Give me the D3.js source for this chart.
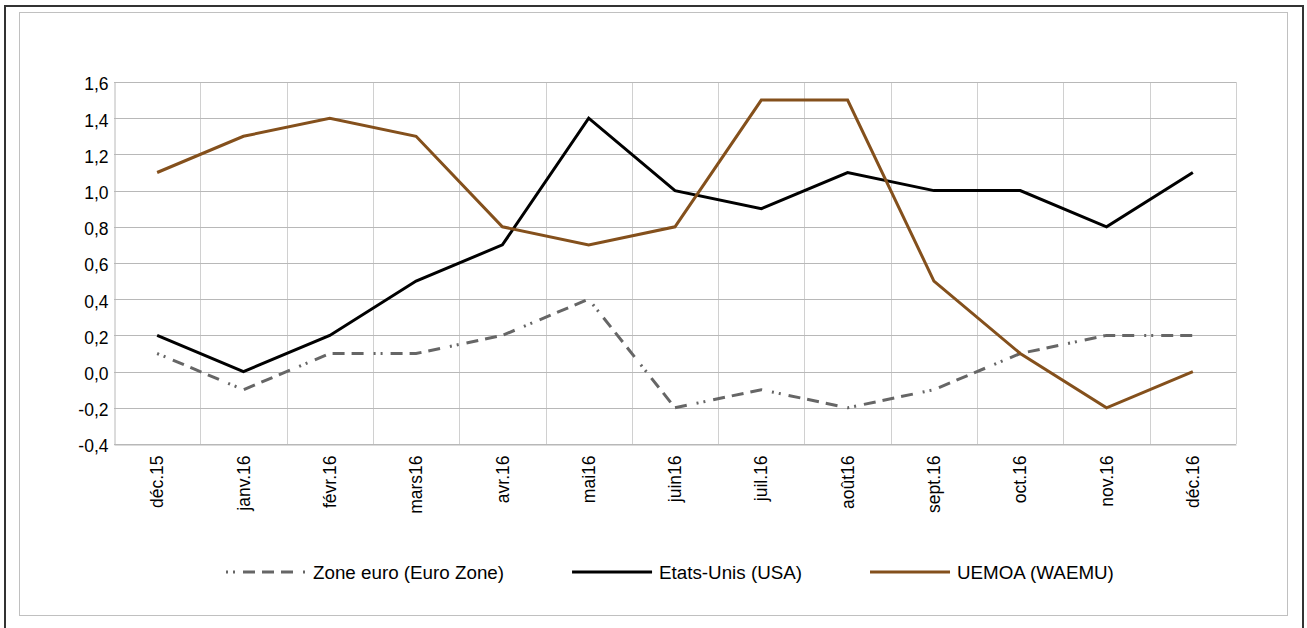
<!DOCTYPE html>
<html>
<head>
<meta charset="utf-8">
<script src="https://cdn.jsdelivr.net/npm/d3@7"></script>
<style>
  body { margin: 0; background: #fff; }
  svg { display: block; font-family: "Liberation Sans", Arial, sans-serif; }
</style>
</head>
<body>
<div id="chart"></div>
<script>
// data
const months = ["déc.15", "janv.16", "févr.16", "mars16", "avr.16", "mai16", "juin16",
                "juil.16", "août16", "sept.16", "oct.16", "nov.16", "déc.16"];
const zoneEuro = [0.1, -0.1, 0.1, 0.1, 0.2, 0.4, -0.2, -0.1, -0.2, -0.1, 0.1, 0.2, 0.2];
const etatsUnis = [0.2, 0.0, 0.2, 0.5, 0.7, 1.4, 1.0, 0.9, 1.1, 1.0, 1.0, 0.8, 1.1];
const uemoa = [1.1, 1.3, 1.4, 1.3, 0.8, 0.7, 0.8, 1.5, 1.5, 0.5, 0.1, -0.2, 0.0];
const seriesNames = ["Zone euro (Euro Zone)", "Etats-Unis (USA)", "UEMOA (WAEMU)"];
const yTicks = [-0.4, -0.2, 0, 0.2, 0.4, 0.6, 0.8, 1.0, 1.2, 1.4, 1.6];

const width = 1307;
const height = 628;
const margin = { top: 82, right: 71, bottom: 184, left: 114 };

const series = [
  { name: seriesNames[0], values: zoneEuro, color: "#666666", dash: "2,5,2,8,12,7,12,7,12,10" },
  { name: seriesNames[1], values: etatsUnis, color: "#000000", dash: null },
  { name: seriesNames[2], values: uemoa, color: "#84501c", dash: null }
];

const fr = d3.formatLocale({ decimal: ",", thousands: " ", grouping: [3], currency: ["", "€"], minus: "-" });
const fmt = fr.format(".1f");

const svg = d3.select("#chart")
  .append("svg")
  .attr("width", width)
  .attr("height", height);

// frames
svg.append("rect")
  .attr("x", 5).attr("y", 6)
  .attr("width", 1298).attr("height", 640)
  .attr("fill", "none")
  .attr("stroke", "#333")
  .attr("stroke-width", 2);

svg.append("rect")
  .attr("x", 19.5).attr("y", 12.5)
  .attr("width", 1268).attr("height", 603)
  .attr("fill", "none")
  .attr("stroke", "#c0c0c0")
  .attr("stroke-width", 1);

const x = d3.scaleBand()
  .domain(months)
  .range([margin.left, width - margin.right])
  .padding(0);

const y = d3.scaleLinear()
  .domain([-0.4, 1.6])
  .range([height - margin.bottom, margin.top]);

const cx = d => x(d) + x.bandwidth() / 2;

// vertical grid at category boundaries
svg.append("g")
  .selectAll("line")
  .data(months)
  .join("line")
    .attr("x1", d => Math.round(x(d) + x.bandwidth()) + 0.5)
    .attr("x2", d => Math.round(x(d) + x.bandwidth()) + 0.5)
    .attr("y1", y(1.6))
    .attr("y2", y(-0.4))
    .attr("stroke", "#d0d0d0");

// horizontal grid
svg.append("g")
  .selectAll("line")
  .data(yTicks)
  .join("line")
    .attr("x1", margin.left)
    .attr("x2", width - margin.right)
    .attr("y1", d => Math.round(y(d)) + 0.5)
    .attr("y2", d => Math.round(y(d)) + 0.5)
    .attr("stroke", "#b8b8b8");

// y axis
const yAxis = g => g
  .attr("transform", `translate(${margin.left + 0.5}, 0)`)
  .call(d3.axisLeft(y).tickValues(yTicks).tickFormat(fmt).tickSize(0).tickPadding(6))
  .call(g => g.select(".domain").attr("stroke", "#b8b8b8"))
  .call(g => g.selectAll("text")
    .attr("font-size", 17.5)
    .attr("fill", "#000")
    .attr("font-family", "Liberation Sans, Arial, sans-serif")
    .attr("dy", "0.45em"));
svg.append("g").call(yAxis);

// x axis
const xAxis = g => g
  .attr("transform", `translate(0, ${height - margin.bottom + 0.5})`)
  .call(d3.axisBottom(x).tickSize(0).tickSizeOuter(0))
  .call(g => g.select(".domain").attr("stroke", "#b8b8b8"))
  .call(g => g.selectAll("text")
    .attr("font-size", 17.5)
    .attr("fill", "#000")
    .attr("font-family", "Liberation Sans, Arial, sans-serif")
    .attr("text-anchor", "end")
    .attr("transform", "rotate(-90)")
    .attr("x", -11)
    .attr("y", 0)
    .attr("dy", "0.35em"));
svg.append("g").call(xAxis);

// lines
const line = d3.line()
  .x((d, i) => cx(months[i]))
  .y(d => y(d));

svg.append("g")
  .selectAll("path")
  .data(series)
  .join("path")
    .attr("d", d => line(d.values))
    .attr("fill", "none")
    .attr("stroke", d => d.color)
    .attr("stroke-width", 3)
    .attr("stroke-linejoin", "miter")
    .attr("stroke-dasharray", d => d.dash);

// legend
const legend = svg.append("g").attr("transform", "translate(0, 572)");
let lx = 226;
series.forEach(s => {
  const g = legend.append("g").attr("transform", `translate(${lx}, 0)`);
  g.append("line")
    .attr("x1", 0).attr("x2", 80)
    .attr("y1", 0).attr("y2", 0)
    .attr("stroke", s.color)
    .attr("stroke-width", 3)
    .attr("stroke-dasharray", s.dash);
  const t = g.append("text")
    .attr("x", 87)
    .attr("y", 0)
    .attr("dy", "0.36em")
    .attr("font-size", 18.8)
    .attr("fill", "#000")
    .text(s.name);
  lx += 87 + t.node().getComputedTextLength() + 68;
});
</script>
</body>
</html>
